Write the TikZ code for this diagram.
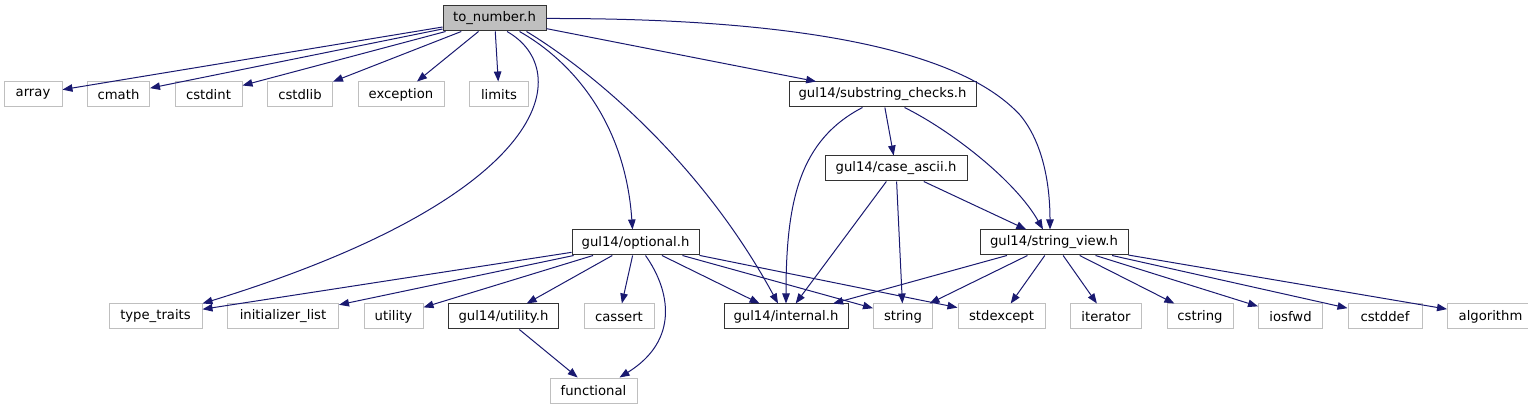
\documentclass[tikz,border=0pt]{standalone}
\usepackage{fontspec}
\setmainfont{DejaVu Sans}
\usepackage{tikz}
\usetikzlibrary{arrows.meta, positioning}
\definecolor{edgeblue}{HTML}{191970}
\definecolor{boxgray}{HTML}{BFBFBF}
\tikzstyle{arrow} = [draw=edgeblue, line width=1pt, -{Triangle[length=10pt, width=7.5pt]}]

\begin{document}
\begin{tikzpicture}[
        x=1pt, y=-1pt,
        node distance=24.5pt,
        font=\fontsize{13.2}{15}\selectfont,
        leg/.style={rectangle, draw=boxgray, fill=white, line width=1pt, minimum height=25pt, inner sep=0pt},
        gul/.style={leg, draw=black!80}
        ]
        \useasboundingbox (0,0) rectangle (1528,411);

        % top of the graph
        \node[gul, fill=boxgray, minimum width=103pt] (to_number) at (494.5,18.5) {to\_number.h};

        % second row
        \node[leg, minimum width=58pt] (array) at (33,94.5) {array};
        \node[leg, minimum width=62pt, right=of array] (cmath) {cmath};
        \node[leg, minimum width=67pt, right=of cmath] (cstdint) {cstdint};
        \node[leg, minimum width=65pt, right=of cstdint] (cstdlib) {cstdlib};
        \node[leg, minimum width=86pt, right=of cstdlib] (exception) {exception};
        \node[leg, minimum width=59pt, right=of exception] (limits) {limits};
        \node[gul, minimum width=187pt] (substring_checks) at (882.5,94.5) {gul14/substring\_checks.h};

        \node[gul, minimum width=142pt] (case_ascii) at (896,168.5) {gul14/case\_ascii.h};

        \node[gul, minimum width=127pt] (optional) at (635.5,242.5) {gul14/optional.h};
        \node[gul, minimum width=148pt] (string_view) at (1054,242.5) {gul14/string\_view.h};

        % bottom rows
        \node[leg, minimum width=93pt] (type_traits) at (155.5,316.5) {type\_traits};
        \node[leg, minimum width=111pt, right=of type_traits] (initializer_list) {initializer\_list};
        \node[leg, minimum width=59pt, right=of initializer_list] (utility) {utility};
        \node[gul, minimum width=110pt, right=of utility] (gul_utility) {gul14/utility.h};
        \node[leg, minimum width=70pt, right=of gul_utility] (cassert) {cassert};
        \node[gul, minimum width=124pt] (internal) at (786,316.5) {gul14/internal.h};
        \node[leg, minimum width=59pt, right=of internal] (string) {string};
        \node[leg, minimum width=87pt, right=of string] (stdexcept) {stdexcept};
        \node[leg, minimum width=71pt, right=of stdexcept] (iterator) {iterator};
        \node[leg, minimum width=66pt, right=of iterator] (cstring) {cstring};
        \node[leg, minimum width=64pt, right=of cstring] (iosfwd) {iosfwd};
        \node[leg, minimum width=74pt, right=of iosfwd] (cstddef) {cstddef};
        \node[leg, minimum width=86pt, right=of cstddef] (algorithm) {algorithm};

        \node[leg, minimum width=87pt] (functional) at (593.5,390.5) {functional};

        % to_number.h
        \draw[arrow] (to_number) -- (array);
        \draw[arrow] (to_number) -- (cmath);
        \draw[arrow] (to_number) -- (cstdint);
        \draw[arrow] (to_number) -- (cstdlib);
        \draw[arrow] (to_number) -- (exception);
        \draw[arrow] (to_number) -- (limits);
        \draw[arrow] (to_number) -- (substring_checks);
        \draw[arrow] ([xshift=12.5pt]to_number.south) .. controls (575,70) and (555,195) .. (type_traits.north east);
        \draw[arrow] ([xshift=25pt]to_number.south) .. controls (570,60) and (625,120) .. ([xshift=-3pt]optional.north);
        \draw[arrow] ([xshift=32pt]to_number.south) .. controls (590,70) and (700,160) .. ([xshift=-8pt]internal.north);
        \draw[arrow] (to_number.east) .. controls (800,18) and (960,50) .. (1020,115)
            .. controls (1045,145) and (1050,190) .. ([xshift=-4pt]string_view.north);

        % substring_checks.h
        \draw[arrow] ([xshift=-20pt]substring_checks.south) .. controls (800,140) and (786,200) .. (internal.north);
        \draw[arrow] (substring_checks) -- (case_ascii);
        \draw[arrow] ([xshift=22pt]substring_checks.south) .. controls (950,130) and (1015,180) .. ([xshift=-11pt]string_view.north);

        % case_ascii.h
        \draw[arrow] (case_ascii) -- (internal);
        \draw[arrow] (case_ascii) -- (string);
        \draw[arrow] (case_ascii) -- (string_view);

        % optional.h
        \draw[arrow] (optional) -- (type_traits);
        \draw[arrow] (optional) -- (initializer_list);
        \draw[arrow] (optional) -- (utility);
        \draw[arrow] (optional) -- (gul_utility);
        \draw[arrow] (optional) -- (cassert);
        \draw[arrow] ([xshift=10pt]optional.south) .. controls (670,290) and (680,340) .. ([xshift=26pt]functional.north);
        \draw[arrow] (optional) -- (internal);
        \draw[arrow] (optional) -- (string);
        \draw[arrow] (optional) -- (stdexcept);

        % string_view.h
        \draw[arrow] (string_view) -- (internal);
        \draw[arrow] (string_view) -- (string);
        \draw[arrow] (string_view) -- (stdexcept);
        \draw[arrow] (string_view) -- (iterator);
        \draw[arrow] (string_view) -- (cstring);
        \draw[arrow] (string_view) -- (iosfwd);
        \draw[arrow] (string_view) -- (cstddef);
        \draw[arrow] (string_view) -- (algorithm);

        \draw[arrow] (gul_utility) -- (functional);

    \end{tikzpicture}
\end{document}
